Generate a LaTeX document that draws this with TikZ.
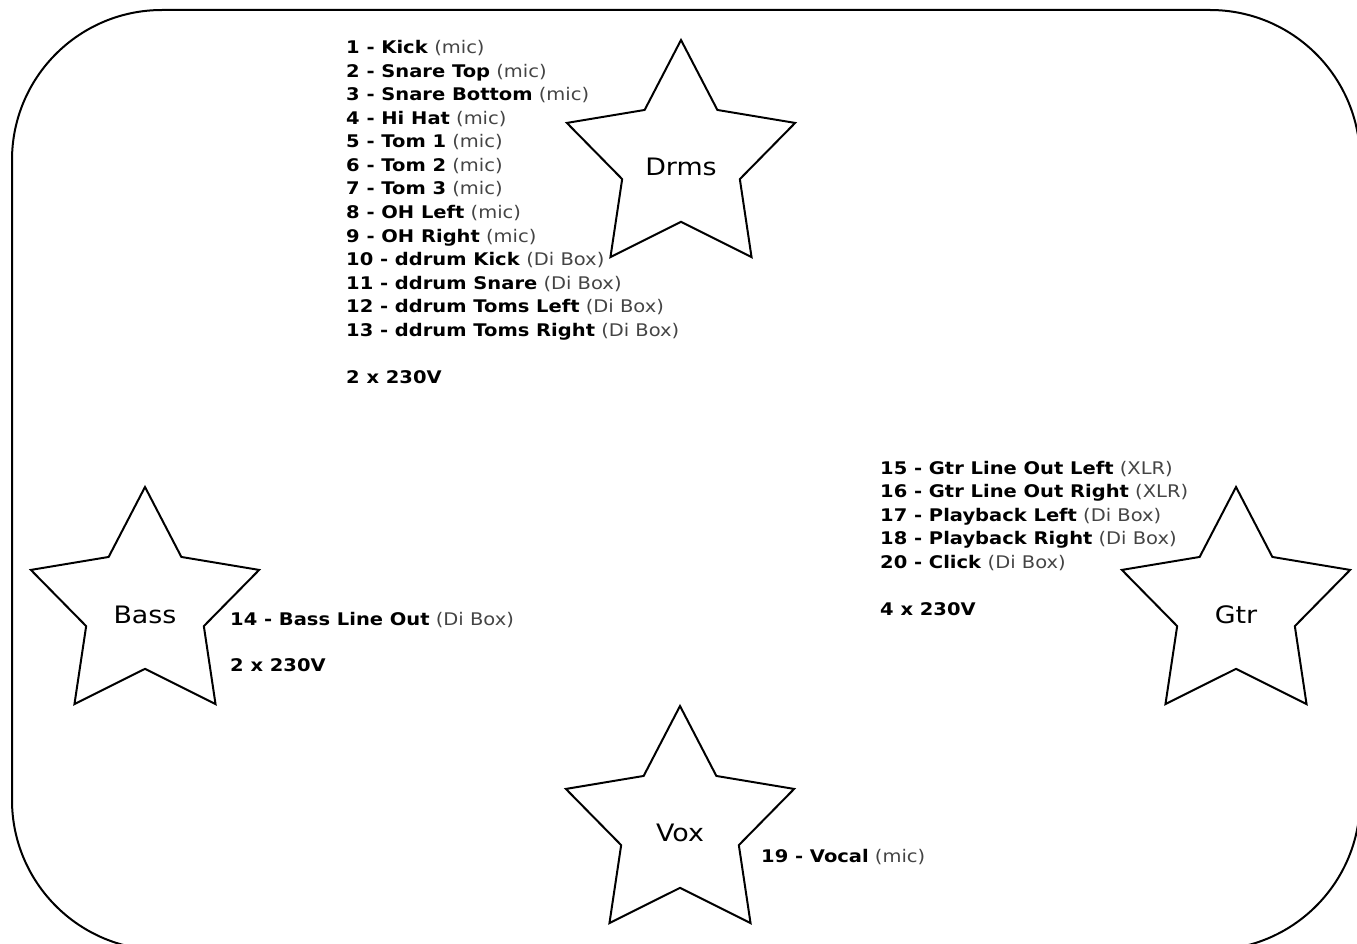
\documentclass[tikz,border=0pt]{standalone}
\usepackage{fontspec}
\setmainfont{DejaVu Sans}[FakeStretch=1.12]
\usetikzlibrary{shapes.geometric}
\definecolor{paren}{HTML}{444444}
\tikzset{
  stagestar/.style={star, star points=5, star point ratio=1.94, minimum size=240pt,
    inner sep=0pt, outer sep=0pt, draw=black, line width=2pt, line join=miter},
  starlabel/.style={inner sep=0pt, font=\fontsize{24}{26}\selectfont},
  item/.style={anchor=base west, inner sep=0pt, font=\fontsize{17.4}{20}\selectfont},
}
\begin{document}
\begin{tikzpicture}[x=1pt,y=-1pt]
\useasboundingbox (0,0) rectangle (1357,944);
\draw[line width=2pt, rounded corners=150pt] (12,10) rectangle (1360,950);

% stars
\node[stagestar] (drms) at (681,160) {};
\node[stagestar] (bass) at (145,607) {};
\node[stagestar] (gtr)  at (1236,607) {};
\node[stagestar] (vox)  at (680,826) {};
\node[starlabel] (drmsT) at (681,167) {Drms};
\node[starlabel] (bassT) at (145,615) {Bass};
\node[starlabel] (gtrT)  at (1236,615) {Gtr};
\node[starlabel] (voxT)  at (680,833) {Vox};

% drums list
\foreach \b/\r [count=\i from 0] in {
  {1 - Kick}/{(mic)},
  {2 - Snare Top}/{(mic)},
  {3 - Snare Bottom}/{(mic)},
  {4 - Hi Hat}/{(mic)},
  {5 - Tom 1}/{(mic)},
  {6 - Tom 2}/{(mic)},
  {7 - Tom 3}/{(mic)},
  {8 - OH Left}/{(mic)},
  {9 - OH Right}/{(mic)},
  {10 - ddrum Kick}/{(Di Box)},
  {11 - ddrum Snare}/{(Di Box)},
  {12 - ddrum Toms Left}/{(Di Box)},
  {13 - ddrum Toms Right}/{(Di Box)}}
  \node[item] (d\i) at (346,{54+23.5*\i}) {\textbf{\b} \textcolor{paren}{\r}};
\node[item] (dpow) at (346,383) {\textbf{2 x 230V}};

% guitar list
\foreach \b/\r [count=\i from 0] in {
  {15 - Gtr Line Out Left}/{(XLR)},
  {16 - Gtr Line Out Right}/{(XLR)},
  {17 - Playback Left}/{(Di Box)},
  {18 - Playback Right}/{(Di Box)},
  {20 - Click}/{(Di Box)}}
  \node[item] (g\i) at (880,{474+23.5*\i}) {\textbf{\b} \textcolor{paren}{\r}};
\node[item] (gpow) at (880,615) {\textbf{4 x 230V}};

% bass
\node[item] (b0) at (230,625) {\textbf{14 - Bass Line Out} \textcolor{paren}{(Di Box)}};
\node[item] (bpow) at (230,671) {\textbf{2 x 230V}};

% vox
\node[item] (v0) at (761,862) {\textbf{19 - Vocal} \textcolor{paren}{(mic)}};
\end{tikzpicture}
\end{document}
